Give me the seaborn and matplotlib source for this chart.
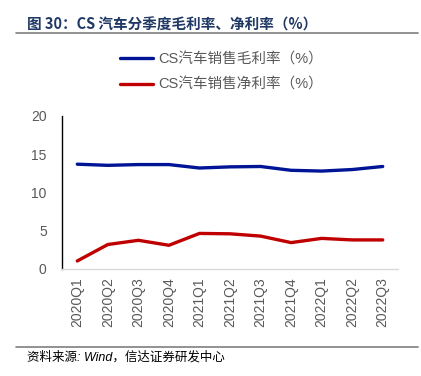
import matplotlib
matplotlib.use("Agg")
import matplotlib.pyplot as plt
import seaborn as sns
import pandas as pd
import numpy as np

# data
quarters = ["2020Q1", "2020Q2", "2020Q3", "2020Q4", "2021Q1", "2021Q2",
            "2021Q3", "2021Q4", "2022Q1", "2022Q2", "2022Q3"]
gross_margin = [13.7, 13.55, 13.65, 13.65, 13.2, 13.35, 13.4, 12.9, 12.8, 13.0, 13.4]
net_margin = [1.05, 3.2, 3.75, 3.1, 4.65, 4.6, 4.3, 3.45, 4.0, 3.8, 3.8]
series_names = ["CS汽车销售毛利率（%）", "CS汽车销售净利率（%）"]
yticks = [0, 5, 10, 15, 20]

sns.set_theme(style="white")
plt.rcParams['font.family'] = ['Liberation Sans', 'Noto Sans CJK SC', 'DejaVu Sans']

df = pd.DataFrame({
    "quarter": quarters * 2,
    "value": gross_margin + net_margin,
    "series": [series_names[0]] * len(quarters) + [series_names[1]] * len(quarters),
})

fig = plt.figure(figsize=(4.21, 3.76), dpi=100)
ax = fig.add_axes([0.1473, 0.2846, 0.7981, 0.4069])

sns.lineplot(data=df, x="quarter", y="value", hue="series",
             palette=["#001496", "#C00000"], linewidth=2.4, ax=ax, legend=True)

ax.set_xlim(-0.5, len(quarters) - 0.5)
ax.set_ylim(0, 20)
ax.set_yticks(yticks)
ax.set_xlabel("")
ax.set_ylabel("")

# spines
for s in ["top", "right"]:
    ax.spines[s].set_visible(False)
ax.spines["left"].set_color("black")
ax.spines["left"].set_linewidth(1.0)
ax.spines["bottom"].set_color("#D9D9D9")
ax.spines["bottom"].set_linewidth(1.0)

ax.set_xticks(range(len(quarters)))
ax.set_xticklabels(quarters, rotation=90, fontsize=10, color="#595959")
ax.set_xticks(np.arange(-0.5, len(quarters), 1.0), minor=True)
ax.tick_params(axis="x", which="major", length=0, pad=6)
ax.tick_params(axis="x", which="minor", length=4, color="#D9D9D9", width=1, direction="out")
ax.tick_params(axis="y", length=3, color="black", width=1, direction="out",
               labelsize=10, labelcolor="#595959", pad=8)

leg = ax.legend(loc="upper left", bbox_to_anchor=(0.155, 1.455), frameon=False,
                fontsize=10.5, handlelength=2.3, labelspacing=0.8, handletextpad=0.3,
                borderaxespad=0)
for t in leg.get_texts():
    t.set_color("#595959")

# title and rules
fig.text(0.064, 0.936, "图 30：CS 汽车分季度毛利率、净利率（%）", fontsize=10.5,
         fontweight="bold", color="#1F3864", va="center",
         family=['Noto Sans CJK SC', 'DejaVu Sans'])
fig.add_artist(plt.Line2D([0.038, 0.993], [0.912, 0.912], color="#7F7F7F", lw=1.2))
fig.add_artist(plt.Line2D([0.038, 0.993], [0.077, 0.077], color="#7F7F7F", lw=1.2))
fig.text(0.064, 0.05, "资料来源: Wind，信达证券研发中心", fontsize=9,
         style="italic", color="black", va="center")

fig.savefig("out.png", dpi=100)
